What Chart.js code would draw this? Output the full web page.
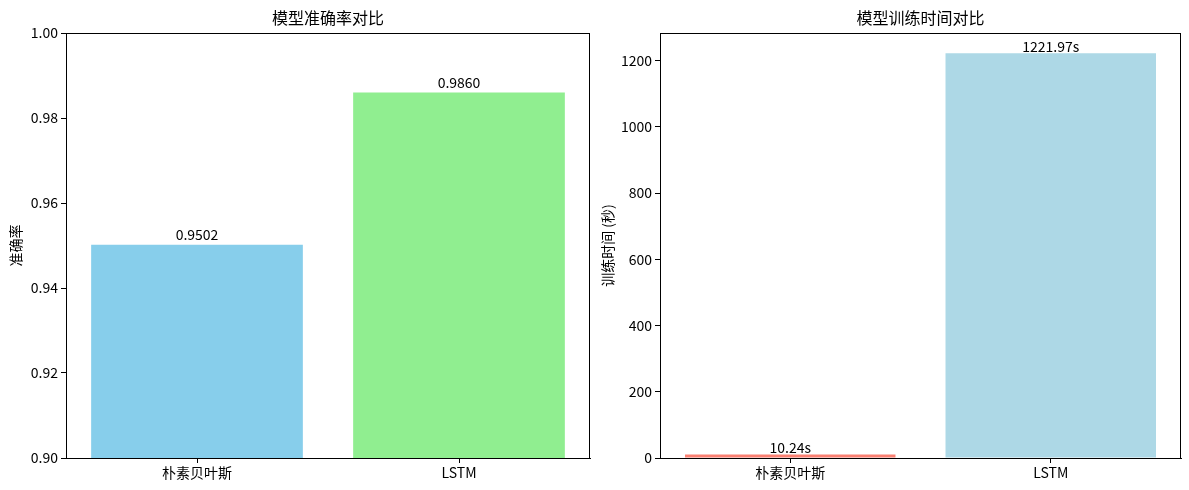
<!DOCTYPE html>
<html>
<head>
<meta charset="utf-8">
<script src="https://cdn.jsdelivr.net/npm/chart.js@4"></script>
<style>
    html, body { margin: 0; padding: 0; background: #fff; }
    .panel { position: absolute; top: 0; height: 490px; }
    #left { left: 0; width: 595px; }
    #right { left: 595px; width: 594px; }
</style>
</head>
<body>
<div class="panel" id="left"><canvas id="accChart"></canvas></div>
<div class="panel" id="right"><canvas id="timeChart"></canvas></div>
<script>
const models = ['朴素贝叶斯', 'LSTM'];
const accuracy = [0.9502, 0.9860];
const trainTime = [10.24, 1221.97];
const accColors = ['#87CEEB', '#90EE90'];
const timeColors = ['#FA8072', '#ADD8E6'];

const FONT = '"Noto Sans CJK SC", "Noto Sans", sans-serif';

// cadre noir autour de la zone du graphique
const framePlugin = {
    id: 'frame',
    afterDraw(chart) {
        const a = chart.chartArea;
        const ctx = chart.ctx;
        ctx.save();
        ctx.strokeStyle = '#000';
        ctx.lineWidth = 1;
        ctx.strokeRect(Math.round(a.left) + 0.5, Math.round(a.top) + 0.5,
            Math.round(a.right - a.left) - 1, Math.round(a.bottom - a.top));
        ctx.restore();
    }
};

// valeurs au-dessus des barres
const valueLabels = {
    id: 'valueLabels',
    afterDatasetsDraw(chart, args, opts) {
        const ctx = chart.ctx;
        const yScale = chart.scales.y;
        const ds = chart.data.datasets[0];
        chart.getDatasetMeta(0).data.forEach((bar, i) => {
            const v = ds.data[i];
            ctx.save();
            ctx.font = '14px ' + FONT;
            ctx.fillStyle = '#000';
            ctx.textAlign = 'center';
            ctx.textBaseline = 'bottom';
            ctx.fillText(opts.format(v), bar.x, yScale.getPixelForValue(v + opts.offset) + opts.shift);
            ctx.restore();
        });
    }
};

function makeChart(canvasId, values, colors, cfg) {
    return new Chart(document.getElementById(canvasId), {
        type: 'bar',
        data: {
            labels: models,
            datasets: [{
                data: values,
                backgroundColor: colors,
                barPercentage: 0.808,
                categoryPercentage: 1.0
            }]
        },
        options: {
            responsive: true,
            maintainAspectRatio: false,
            animation: false,
            layout: { padding: { left: 0, right: cfg.padRight, top: 0, bottom: 0 } },
            plugins: {
                legend: { display: false },
                tooltip: { enabled: false },
                title: {
                    display: true,
                    text: cfg.title,
                    fullSize: false,
                    color: '#000',
                    font: { family: FONT, size: 16, weight: 'normal' },
                    padding: { top: 8, bottom: 5.8 }
                },
                valueLabels: { format: cfg.format, offset: cfg.labelOffset, shift: cfg.labelShift }
            },
            scales: {
                x: {
                    grid: { offset: false, drawOnChartArea: false, drawTicks: true, tickLength: 5, color: '#000' },
                    border: { display: true, color: '#000', width: 1 },
                    ticks: { color: '#000', font: { family: FONT, size: 14 }, padding: 1 },
                    afterFit(scale) { scale.height = 32; }
                },
                y: {
                    min: cfg.min,
                    max: cfg.max,
                    grid: { drawOnChartArea: false, drawTicks: true, tickLength: 5, color: '#000' },
                    border: { display: true, color: '#000', width: 1 },
                    ticks: {
                        stepSize: cfg.step,
                        includeBounds: false,
                        color: '#000',
                        font: { family: FONT, size: 14 },
                        padding: 3,
                        callback: cfg.tickFormat
                    },
                    title: {
                        display: true,
                        text: cfg.yTitle,
                        color: '#000',
                        font: { family: FONT, size: 14 },
                        padding: { top: cfg.yTitlePad, bottom: 0 }
                    },
                    afterFit(scale) { scale.width = cfg.yWidth; }
                }
            }
        },
        plugins: [framePlugin, valueLabels]
    });
}

makeChart('accChart', accuracy, accColors, {
    title: '模型准确率对比',
    yTitle: '准确率',
    min: 0.9,
    max: 1.0,
    step: 0.02,
    tickFormat: v => Number(v).toFixed(2),
    format: v => v.toFixed(4),
    labelOffset: 0.0005,
    labelShift: -1,
    yWidth: 66,
    yTitlePad: 7,
    padRight: 5
});

makeChart('timeChart', trainTime, timeColors, {
    title: '模型训练时间对比',
    yTitle: '训练时间 (秒)',
    min: 0,
    max: 1283.07,
    step: 200,
    tickFormat: v => String(Math.round(v)),
    format: v => v.toFixed(2) + 's',
    labelOffset: 0,
    labelShift: 0,
    yWidth: 65,
    yTitlePad: 4,
    padRight: 8
});
</script>
</body>
</html>
